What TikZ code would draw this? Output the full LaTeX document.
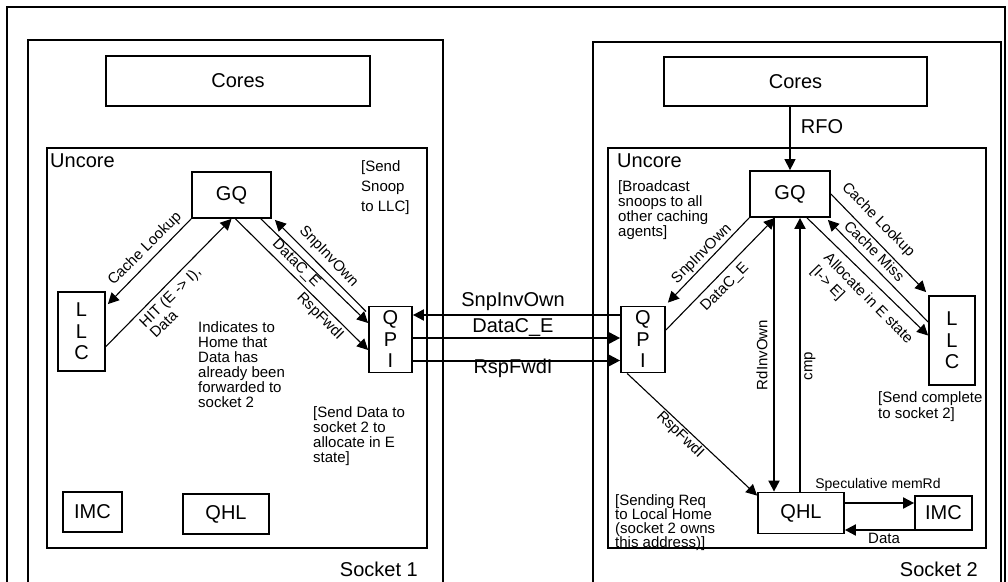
\documentclass[tikz,border=0pt]{standalone}
\usepackage{fontspec}
\setmainfont{Liberation Sans}
\usetikzlibrary{arrows.meta,calc}
\begin{document}
\begin{tikzpicture}[x=1pt,y=-1pt,
  box/.style={draw, line width=1.8pt, inner sep=0pt, align=center, font=\fontsize{20}{21.5}\selectfont},
  lbl/.style={inner sep=0pt, font=\fontsize{15}{15}\selectfont},
  note/.style={inner sep=0pt, align=left, anchor=north west, font=\fontsize{15}{15}\selectfont},
  big/.style={inner sep=0pt, font=\fontsize{20}{22}\selectfont},
  tip/.style={-{Triangle[length=11pt,width=11pt]}},
  thinarr/.style={tip, line width=1.1pt},
  thickarr/.style={tip, line width=2pt},
  frame/.style={line width=1.5pt},
  unc/.style={line width=2pt},
]
\useasboundingbox (0,0) rectangle (1008,581);
\clip (0,0) rectangle (1008,581);

% containers
\draw[frame] (7,7) rectangle (1005,640);
\draw[frame] (28,40) rectangle (443,640);
\draw[frame] (593,42) rectangle (1001,640);
\draw[unc] (47,148) rectangle (427,548);
\draw[unc] (608,148) rectangle (986,548);

\node[big, anchor=base west] (uncL) at (50,167) {Uncore};
\node[big, anchor=base west] (uncR) at (617,167) {Uncore};
\node[big, anchor=base east] (sockL) at (418,576) {Socket 1};
\node[big, anchor=base east] (sockR) at (978,576) {Socket 2};

% socket 1 blocks
\node[box, minimum width=264pt, minimum height=50pt] (coresL) at (238,81) {Cores};
\node[box, minimum width=79pt, minimum height=46pt] (gqL) at (231.5,195) {GQ};
\node[box, minimum width=47pt, minimum height=79pt] (llcL) at (81.5,331.5) {L\\L\\C};
\node[box, minimum width=43pt, minimum height=66pt] (qpiL) at (390.5,339.5) {Q\\P\\I};
\node[box, minimum width=59pt, minimum height=40pt] (imcL) at (92.5,512) {IMC};
\node[box, minimum width=86pt, minimum height=40pt] (qhlL) at (226,514) {QHL};

% socket 2 blocks
\node[box, minimum width=263pt, minimum height=49pt] (coresR) at (795.5,81.5) {Cores};
\node[box, minimum width=80pt, minimum height=46pt] (gqR) at (790,194) {GQ};
\node[box, minimum width=46pt, minimum height=89pt] (llcR) at (952,340.5) {L\\L\\C};
\node[box, minimum width=44pt, minimum height=66pt] (qpiR) at (643,339.5) {Q\\P\\I};
\node[box, minimum width=86pt, minimum height=41pt] (qhlR) at (801,513) {QHL};
\node[box, minimum width=57pt, minimum height=34pt] (imcR) at (943.5,513) {IMC};

% notes
\node[note, font=\fontsize{15}{20}\selectfont] (snoopN) at (361,160) {[Send\\Snoop\\to LLC]};
\node[note] (indN) at (198,321) {Indicates to\\Home that\\Data has\\already been\\forwarded to\\socket 2};
\node[note] (sendDataN) at (313,406) {[Send Data to\\socket 2 to\\allocate in E\\state]};
\node[note] (bcastN) at (618,180) {[Broadcast\\snoops to all\\other caching\\agents]};
\node[note, font=\fontsize{15}{16}\selectfont] (complN) at (878,391) {[Send complete\\to socket 2]};
\node[note, font=\fontsize{15}{14}\selectfont] (reqN) at (615,494) {[Sending Req\\to Local Home\\(socket 2 owns\\this address)]};

% socket 1 arrows
\draw[thinarr] (gqL.south west) -- ($(llcL.north east)+(2,13)$);
\node[lbl, rotate=45] (clL) at (145,249) {Cache Lookup};
\draw[thinarr] ($(llcL.east)+(0,15)$) -- (gqL.south);
\node[lbl, rotate=44.5, align=left] (hitL) at (175,302) {HIT (E -> I),\\Data};
\draw[thinarr] ($(qpiL.north west)+(-2,6)$) -- ($(gqL.south east)+(3,1)$);
\node[lbl, rotate=-46] (snpL) at (328.5,257) {SnpInvOwn};
\draw[thinarr] ($(gqL.south east)+(-11,0)$) -- ($(qpiL.west)+(0,-16.5)$);
\node[lbl, rotate=-45] (datL) at (296,263.5) {DataC\_E};
\draw[thinarr] ($(gqL.south)+(4,0)$) -- ($(qpiL.west)+(0,10.5)$);
\node[lbl, rotate=-45] (rspL) at (320,316.5) {RspFwdI};

% inter-socket arrows
\draw[thickarr] ($(qpiR.west)+(0,-24.5)$) -- ($(qpiL.east)+(0,-24.5)$);
\draw[thickarr] ($(qpiL.east)+(0,-1.5)$) -- ($(qpiR.west)+(0,-1.5)$);
\draw[thickarr] ($(qpiL.east)+(0,21)$) -- ($(qpiR.west)+(0,21)$);
\node[big] (snpX) at (513,302) {SnpInvOwn};
\node[big] (datX) at (513,327) {DataC\_E};
\node[big] (rspX) at (513,368) {RspFwdI};

% socket 2 arrows
\draw[thinarr, line width=1.4pt] (coresR.south -| gqR.north) -- (gqR.north);
\node[big] (rfo) at (822,127) {RFO};
\draw[thinarr] (gqR.south west) -- ($(qpiR.north east)+(2,-3)$);
\node[lbl, rotate=45] (snpR) at (702,254) {SnpInvOwn};
\draw[thinarr] ($(qpiR.east)+(0,-9.5)$) -- ($(gqR.south)+(-15,0)$);
\node[lbl, rotate=45] (datR) at (725,287.5) {DataC\_E};
\coordinate (rdTop) at ($(gqR.south)+(-16,0)$);
\coordinate (cmpTop) at ($(gqR.south)+(10,0)$);
\draw[thickarr] (rdTop) -- (rdTop |- qhlR.north);
\node[lbl, rotate=90] (rdLbl) at (762,355) {RdInvOwn};
\draw[thickarr] (cmpTop |- qhlR.north) -- (cmpTop);
\node[lbl, rotate=90] (cmpLbl) at (810,366) {cmp};
\draw[thinarr] (gqR.east) -- ($(llcR.north west)+(-2,-3)$);
\node[lbl, rotate=-45.5] (clR) at (878,220) {Cache Lookup};
\draw[thinarr] ($(llcR.west)+(0,-18.5)$) -- ($(gqR.south east)+(-3,2)$);
\node[lbl, rotate=-45] (cmR) at (874.5,251) {Cache Miss};
\draw[thinarr] ($(gqR.south)+(17,0)$) -- ($(llcR.west)+(0,-5)$);
\node[lbl, rotate=-45.5, align=left, font=\fontsize{15}{18}\selectfont] (allocR) at (861.6,305.3) {Allocate in E state\\{}[I-> E]};
\draw[thinarr] ($(qpiR.south west)+(7,0)$) -- ($(qhlR.north west)+(0,4)$);
\node[lbl, rotate=-44] (rspR) at (680,435) {RspFwdI};
\draw[thickarr] ($(qhlR.east)+(0,-10)$) -- ($(imcR.west)+(0,-10)$);
\node[lbl, font=\fontsize{14}{14}\selectfont] (specLbl) at (878,485) {Speculative memRd};
\draw[thickarr] ($(imcR.west)+(0,17)$) -- ($(qhlR.east)+(0,17)$);
\node[lbl] (dataLbl) at (884,538) {Data};
\end{tikzpicture}
\end{document}
